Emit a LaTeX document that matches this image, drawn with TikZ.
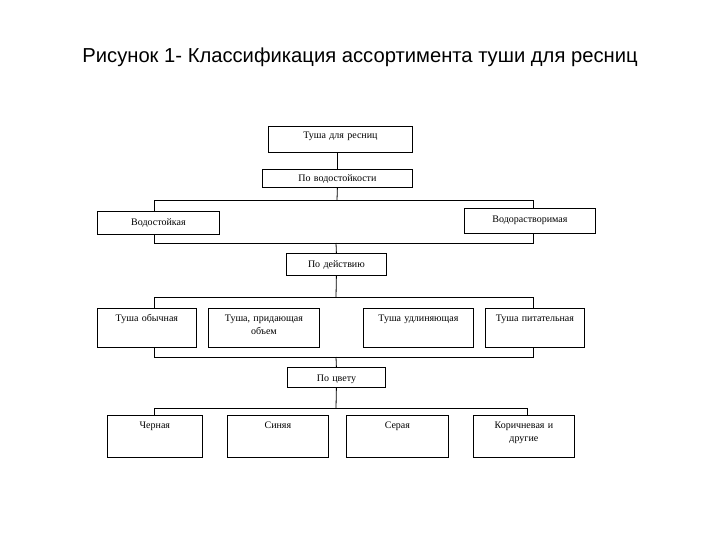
\documentclass[tikz,border=0pt]{standalone}
\usepackage{fontspec}
\setmainfont{Liberation Serif}
\newfontfamily\titlefont{Liberation Sans}
\usetikzlibrary{calc}
\def\catnode{\node[box]}

\tikzset{
  box/.style={draw=black, fill=white, line width=0.8pt, inner sep=0pt, align=center,
    anchor=north west, font=\fontsize{10}{13}\selectfont},
  dims/.style n args={3}{text width=#1, text height=#2, text depth=#3},
  link/.style={draw=black, line width=0.8pt}
}

\begin{document}
\begin{tikzpicture}[x=1pt,y=-1pt]
\useasboundingbox (0,0) rectangle (720,540);
\node[font=\titlefont\fontsize{20.2}{24}\selectfont, anchor=base] (title) at (360,63)
  {Рисунок 1- Классификация ассортимента туши для ресниц};

% drop columns of the buses
\coordinate (lft) at (154,0);
\coordinate (rgt) at (533,0);

% top and water resistance
\catnode[dims={144pt}{12.5pt}{13.5pt}] (mascara) at (268,126) {Туша для ресниц};
\catnode[dims={150pt}{12.5pt}{5.5pt}] (water) at (262,169) {По водостойкости};
\catnode[dims={122pt}{14.5pt}{8.5pt}] (resist) at (97,211) {Водостойкая};
\catnode[dims={131pt}{14.5pt}{10.5pt}] (soluble) at (464,208) {Водорастворимая};

% action
\catnode[dims={100pt}{14.5pt}{7.5pt}] (action) at (286,253) {По действию};
\catnode[dims={99pt}{13.5pt}{25.5pt}] (plain) at (97,308) {Туша обычная};
\catnode[dims={111pt}{13.5pt}{25.5pt}] (volume) at (208,308) {Туша, придающая\\объем};
\catnode[dims={110pt}{13.5pt}{25.5pt}] (length) at (363,308) {Туша удлиняющая};
\catnode[dims={99pt}{13.5pt}{25.5pt}] (nourish) at (485,308) {Туша питательная};

% colour
\catnode[dims={98pt}{14.5pt}{5.5pt}] (colour) at (287,367) {По цвету};
\catnode[dims={95pt}{13.5pt}{28.5pt}] (black) at (107,415) {Черная};
\catnode[dims={101pt}{13.5pt}{28.5pt}] (blue) at (227,415) {Синяя};
\catnode[dims={102pt}{13.5pt}{28.5pt}] (grey) at (346,415) {Серая};
\catnode[dims={101pt}{13.5pt}{28.5pt}] (brown) at (473,415) {Коричневая и\\другие};

% bus levels
\coordinate (b1) at (337,200);
\coordinate (b2) at (336,243);
\coordinate (b3) at (336,297);
\coordinate (b4) at (336,357);
\coordinate (b5) at (336,408);
\coordinate (brn) at (527,0);

\draw[link] (mascara.south -| water.north) -- (water.north);
\draw[link] (water.south) -- (b1);
\draw[link] (resist.north -| lft) |- (b1 -| rgt) -- (soluble.north -| rgt);
\draw[link] (resist.south -| lft) |- (b2 -| rgt) -- (soluble.south -| rgt);
\draw[link] (b2) -- (action.north);

\draw[link] (action.south) -- (b3);
\draw[link] (plain.north -| lft) |- (b3 -| rgt) -- (nourish.north -| rgt);
\draw[link] (plain.south -| lft) |- (b4 -| rgt) -- (nourish.south -| rgt);
\draw[link] (b4) -- (colour.north);

\draw[link] (colour.south) -- (b5);
\draw[link] (black.north -| lft) |- (b5 -| brn) -- (brown.north -| brn);
\end{tikzpicture}
\end{document}
